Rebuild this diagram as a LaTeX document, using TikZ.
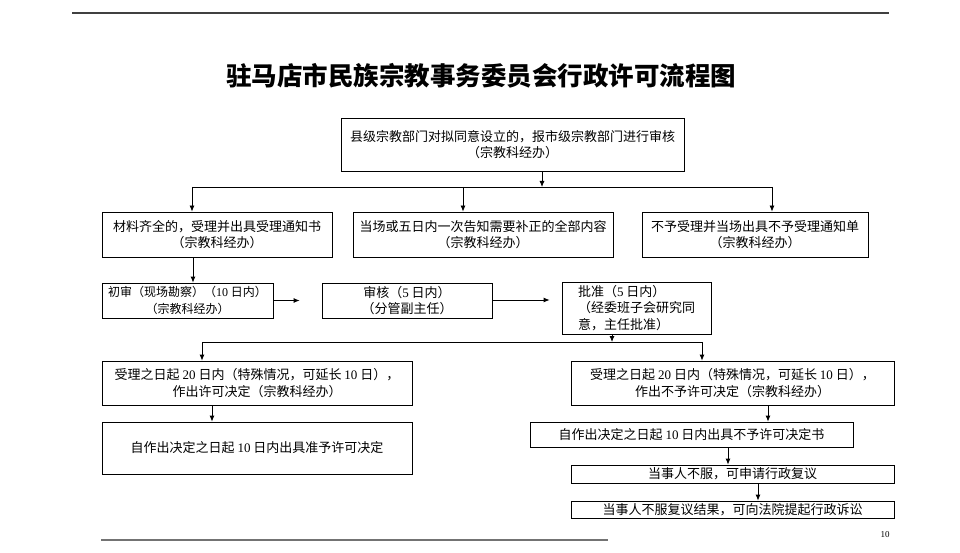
\documentclass[tikz,border=0pt]{standalone}
\usepackage{fontspec}
\newfontfamily\cjk{Noto Sans CJK SC}
\newfontfamily\lat{Liberation Serif}
\usepackage{tikz}
\usetikzlibrary{positioning}
\usetikzlibrary{arrows.meta}
\newcommand\dnum[1]{{\lat #1}}

\begin{document}
\begin{tikzpicture}[
  x=1pt, y=-1pt,
  box/.style={draw=black, line width=0.8pt, align=center, inner sep=0pt,
    font=\cjk\fontsize{13}{16.5}\selectfont},
  link/.style={draw=black, line width=0.8pt, -{Latex[length=6pt,width=5pt]}}
]
  \useasboundingbox (0,0) rectangle (960,553);

  % page rules and title
  \draw[line width=1.2pt, black!75] (72,13) -- (889,13);
  \draw[line width=1.6pt, black!55] (101,540) -- (608,540);
  \node[font=\lat\fontsize{9}{10}\selectfont] (page) at (885,535) {10};
  \node[font=\cjk\bfseries\fontsize{25.5}{28}\selectfont] (title) at (481,76)
    {驻马店市民族宗教事务委员会行政许可流程图};

  % boxes
  \node[box, minimum width=343pt, minimum height=53pt] (top) at (512.5,144.5)
    {县级宗教部门对拟同意设立的，报市级宗教部门进行审核\\（宗教科经办）};

  \node[box, minimum width=230pt, minimum height=45pt] (ok) at (217,234.5)
    {材料齐全的，受理并出具受理通知书\\（宗教科经办）};
  \node[box, minimum width=260pt, minimum height=45pt] (fix) at (483,234.5)
    {当场或五日内一次告知需要补正的全部内容\\（宗教科经办）};
  \node[box, minimum width=226pt, minimum height=45pt] (rej) at (755,234.5)
    {不予受理并当场出具不予受理通知单\\（宗教科经办）};

  \node[box, minimum width=171pt, minimum height=35pt,
    font=\cjk\fontsize{12}{16.5}\selectfont] (first) at (187.5,300.5)
    {初审（现场勘察）（\dnum{10} 日内）\\（宗教科经办）};
  \node[box, minimum width=170pt, minimum height=35pt] (check) at (407,300.5)
    {审核（\dnum{5} 日内）\\（分管副主任）};
  \node[box, align=left, minimum width=149pt, minimum height=52pt] (approve) at (636.5,308)
    {批准（\dnum{5} 日内）\\（经委班子会研究同\\意，主任批准）};

  \node[box, minimum width=310pt, minimum height=44pt] (grant) at (257,383)
    {受理之日起 \dnum{20} 日内（特殊情况，可延长 \dnum{10} 日），\\作出许可决定（宗教科经办）};
  \node[box, minimum width=310pt, minimum height=52pt] (grantdoc) at (257,448)
    {自作出决定之日起 \dnum{10} 日内出具准予许可决定};

  \node[box, minimum width=323pt, minimum height=44pt] (deny) at (732.5,383)
    {受理之日起 \dnum{20} 日内（特殊情况，可延长 \dnum{10} 日），\\作出不予许可决定（宗教科经办）};
  \node[box, minimum width=323pt, minimum height=25pt] (denydoc) at (691.5,434.5)
    {自作出决定之日起 \dnum{10} 日内出具不予许可决定书};
  \node[box, minimum width=323pt, minimum height=18pt] (review) at (732.5,474)
    {当事人不服，可申请行政复议};
  \node[box, minimum width=323pt, minimum height=17pt] (suit) at (732.5,509.5)
    {当事人不服复议结果，可向法院提起行政诉讼};

  % branch points
  \coordinate (s1) at (542,187);
  \coordinate (s1a) at (192,187);
  \coordinate (s1b) at (463,187);
  \coordinate (s1c) at (772,187);
  \coordinate (s2) at (612,342);
  \coordinate (s2a) at (202,342);
  \coordinate (s2b) at (702,342);

  % connectors
  \draw[link] (top.south -| s1) -- (s1);
  \draw[line width=0.8pt] (s1a) -- (s1c);
  \draw[link] (s1a) -- (s1a |- ok.north);
  \draw[link] (s1b) -- (s1b |- fix.north);
  \draw[link] (s1c) -- (s1c |- rej.north);

  \draw[link] ([xshift=-24pt]ok.south) -- ([xshift=-24pt]ok.south |- first.north);
  \draw[link, shorten >=22pt] (first.east) -- (check.west);
  \draw[link, shorten >=12pt] ([yshift=0.5pt]check.east) -- ([yshift=0.5pt]check.east -| approve.west);

  \draw[link] (approve.south -| s2) -- (s2);
  \draw[line width=0.8pt] (s2a) -- (s2b);
  \draw[link] (s2a) -- (s2a |- grant.north);
  \draw[link] (s2b) -- (s2b |- deny.north);

  \draw[link] ([xshift=-45pt]grant.south) -- ([xshift=-45pt]grant.south |- grantdoc.north);
  \draw[link] ([xshift=35.5pt]deny.south) -- ([xshift=35.5pt]deny.south |- denydoc.north);
  \draw[link] ([xshift=36.5pt]denydoc.south) -- ([xshift=36.5pt]denydoc.south |- review.north);
  \draw[link] ([xshift=25.5pt]review.south) -- ([xshift=25.5pt]review.south |- suit.north);
\end{tikzpicture}
\end{document}
